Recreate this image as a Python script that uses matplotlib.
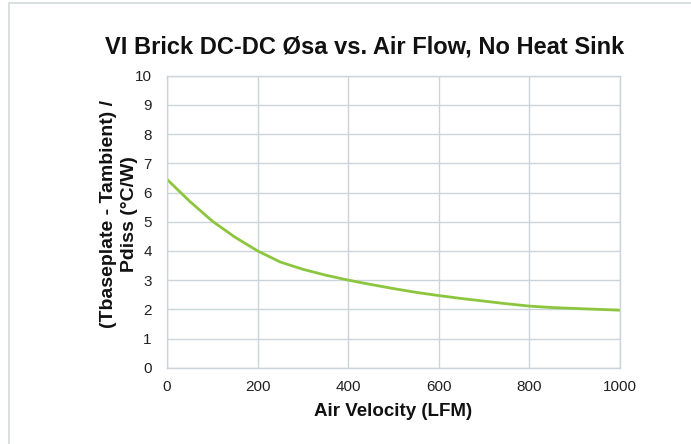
import matplotlib
matplotlib.use("Agg")
import matplotlib.pyplot as plt
from matplotlib.patches import Rectangle

plt.rcParams['font.family'] = ['Liberation Sans', 'DejaVu Sans']

air_velocity = [0, 50, 100, 150, 200, 250, 300, 350, 400, 450, 500, 550, 600, 650, 700, 750, 800, 850, 900, 950, 1000]
theta_sa = [6.45, 5.7, 5.02, 4.47, 4.0, 3.62, 3.37, 3.17, 3.0, 2.85, 2.71, 2.58, 2.47, 2.37, 2.28, 2.19, 2.11, 2.06, 2.03, 2.0, 1.97]
x_ticks = [0, 200, 400, 600, 800, 1000]
y_ticks = list(range(0, 11))

title = "VI Brick DC-DC Øsa vs. Air Flow, No Heat Sink"
x_label = "Air Velocity (LFM)"
y_label = "(Tbaseplate - Tambient) /\nPdiss (°C/W)"

grid_col = "#c9d5da"
line_col = "#8cc63f"

fig = plt.figure(figsize=(6.91, 4.44), dpi=100)
ax = fig.add_axes([0.2417, 0.1718, 0.8973 - 0.2417, 0.8295 - 0.1718])

ax.plot(air_velocity, theta_sa, color=line_col, lw=2.0, solid_capstyle='butt')
ax.set_xlim(0, 1000)
ax.set_ylim(0, 10)
ax.set_xticks(x_ticks)
ax.set_yticks(y_ticks)
ax.grid(True, color=grid_col, lw=1.0)
ax.set_axisbelow(True)
for s in ax.spines.values():
    s.set_color(grid_col)
    s.set_linewidth(1.0)
ax.tick_params(length=0, labelsize=11, colors='#222222')
ax.tick_params(axis='y', pad=11)
ax.tick_params(axis='x', pad=9)

ax.set_xlabel(x_label, fontsize=13.5, fontweight='bold', labelpad=6, color='#111111')
ax.set_ylabel(y_label, fontsize=14, fontweight='bold', color='#111111', linespacing=1.25)
ax.yaxis.label.set_verticalalignment('center')
ax.yaxis.set_label_coords(-0.106, 0.526)

fig.text(0.528, 0.895, title, ha='center', va='center', fontsize=17, fontweight='bold', color='#111111')

fig.patches.append(Rectangle((8.5 / 691, -0.1), 1.2, 1.1 - 3.5 / 444, transform=fig.transFigure,
                             fill=False, edgecolor='#d2dadd', lw=1.2))

fig.savefig("out.png", dpi=100)
